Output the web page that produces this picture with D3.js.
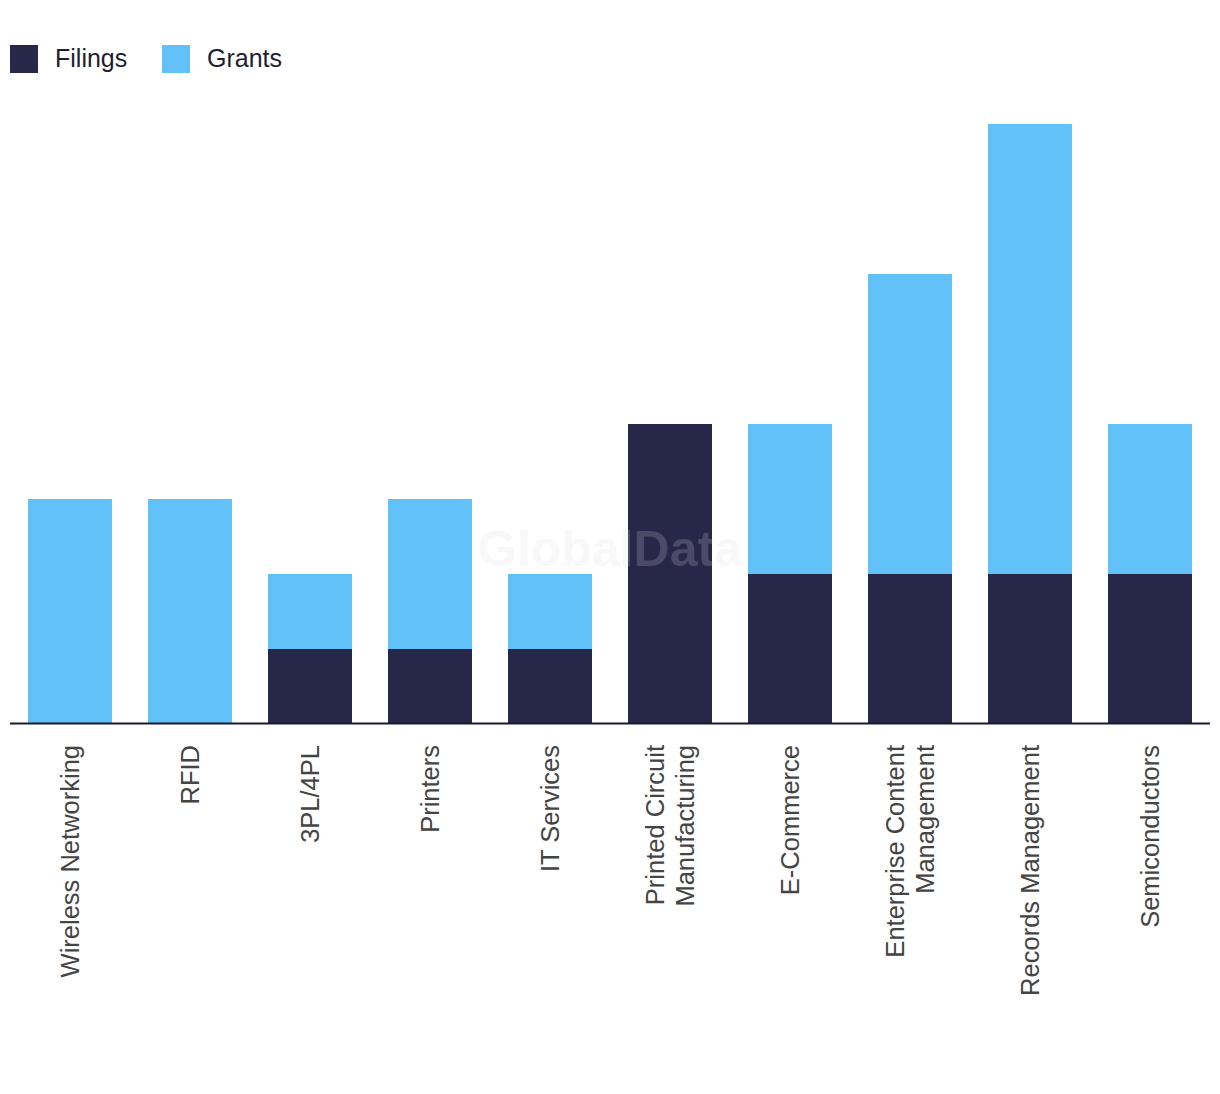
<!DOCTYPE html>
<html><head><meta charset="utf-8">
<script src="https://cdn.jsdelivr.net/npm/d3@7"></script>
<style>body{margin:0;background:#fff}svg{display:block}</style>
</head><body>
<svg id="c" width="1220" height="1094"></svg>
<script>
const categories = ["Wireless Networking","RFID","3PL/4PL","Printers","IT Services","Printed Circuit Manufacturing","E-Commerce","Enterprise Content Management","Records Management","Semiconductors"];
const labelLines = [["Wireless Networking"],["RFID"],["3PL/4PL"],["Printers"],["IT Services"],["Printed Circuit","Manufacturing"],["E-Commerce"],["Enterprise Content","Management"],["Records Management"],["Semiconductors"]];
const filings = [0,0,1,1,1,4,2,2,2,2];
const grants  = [3,3,1,2,1,0,2,4,6,2];
const seriesNames = ["Filings","Grants"];
const colors = ["#27274a","#62c1f9"];

const svg = d3.select("#c");
const x = d3.scaleBand().domain(categories).range([10,1210]).paddingInner(0.3).paddingOuter(0.15);
const y = d3.scaleLinear().domain([0,8]).range([724,124]);

const data = categories.map((c,i)=>({cat:c, Filings:filings[i], Grants:grants[i]}));
const stack = d3.stack().keys(seriesNames)(data);

svg.append("g").selectAll("g").data(stack).join("g")
  .attr("fill",(d,i)=>colors[i])
  .selectAll("rect").data(d=>d).join("rect")
  .attr("x",d=>x(d.data.cat)).attr("width",x.bandwidth())
  .attr("y",d=>y(d[1])).attr("height",d=>y(d[0])-y(d[1]));

// watermark
svg.append("text").attr("x",610).attr("y",566).attr("text-anchor","middle")
  .attr("font-family","Liberation Sans, Arial, sans-serif").attr("font-weight","bold")
  .attr("font-size",50).attr("fill","#dddddd").attr("fill-opacity",0.2).text("GlobalData");

// axis
const ax = svg.append("g").attr("transform","translate(0,723.5)").call(d3.axisBottom(x).tickSize(0).tickFormat(""));
ax.select(".domain").attr("stroke","#1a1a2a").attr("stroke-width",2).attr("d","M10,0H1210");

const lg = svg.append("g");
categories.forEach((c,i)=>{
  const lines = labelLines[i];
  const cx = x(c)+x.bandwidth()/2;
  const lh = 30;
  lines.forEach((l,j)=>{
    const off = (j-(lines.length-1)/2)*lh;
    lg.append("text").attr("transform",`translate(${cx+off+9},745) rotate(-90)`)
      .attr("text-anchor","end").attr("font-family","Liberation Sans, Arial, sans-serif")
      .attr("font-size",25.5).attr("fill","#444").text(l);
  });
});

// legend
const leg = svg.append("g");
const legX = [10,162];
seriesNames.forEach((s,i)=>{
  leg.append("rect").attr("x",legX[i]).attr("y",45).attr("width",28).attr("height",28).attr("fill",colors[i]);
  leg.append("text").attr("x",legX[i]+45).attr("y",67).attr("font-family","Liberation Sans, Arial, sans-serif")
    .attr("font-size",25).attr("fill","#1e1e30").text(s);
});
</script>
</body></html>
